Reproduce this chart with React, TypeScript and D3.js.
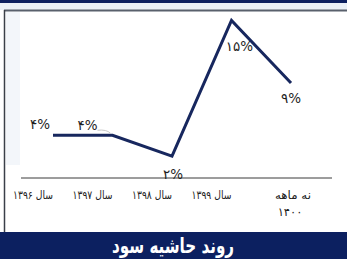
import { useMemo } from 'react';
import * as d3 from 'd3';

const categories = ['سال ۱۳۹۶', 'سال ۱۳۹۷', 'سال ۱۳۹۸', 'سال ۱۳۹۹', 'نه ماهه ۱۴۰۰'];
const values = [4, 4, 2, 15, 9];
const valueLabels = ['۴%', '۴%', '۲%', '۱۵%', '۹%'];
const title = 'روند حاشیه سود';

// label placement relative to each point (dx, dy)
const labelOffsets: [number, number][] = [[-13, -6], [-25, -5], [1, 23], [8, 31], [0, 20]];

const W = 347;
const H = 259;
const NAVY = '#0c2060';
const FONT = '"DejaVu Sans", sans-serif';

export default function App() {
  const x = useMemo(() => d3.scalePoint<string>().domain(categories).range([53, 291]), []);
  const y = useMemo(() => d3.scaleLinear().domain([0, 16]).range([177, 10]), []);

  const line = d3.line<number>()
    .x((_, i) => x(categories[i])!)
    .y(d => y(d));

  const axisY = y(0) + 1;
  const x0 = x(categories[0])! - 32;
  const x1 = x(categories[categories.length - 1])! + 41;

  return (
    <svg width={W} height={H} style={{ position: 'fixed', left: 0, top: 0, background: '#fff' }} fontFamily={FONT}>
      {/* header strip */}
      <rect x={0} y={0} width={W} height={3} fill={NAVY} />
      <rect x={0} y={3} width={W} height={7} fill="#eaf0f7" />
      <line x1={4} x2={W} y1={10.5} y2={10.5} stroke="#59606c" strokeWidth={2} />
      <line x1={4.5} x2={4.5} y1={10} y2={232} stroke="#3a3f48" strokeWidth={1.5} />
      <rect x={6} y={12} width={14} height={153} fill="#f3f6fa" />

      {/* axis */}
      <line x1={x0} x2={x1} y1={axisY} y2={axisY} stroke="#3a3a3a" strokeWidth={1} />

      {/* line */}
      <path d={line(values) ?? ''} fill="none" stroke="#17275e" strokeWidth={3} strokeLinejoin="miter" />

      {/* faint leader */}
      <path d={`M${x(categories[1])! - 15},${y(values[1]) - 5} Q${x(categories[1])! - 6},${y(values[1]) - 6} ${x(categories[1])! - 2},${y(values[1]) - 2}`}
        fill="none" stroke="#c8c8c8" strokeWidth={1} />

      {/* value labels */}
      {values.map((v, i) => (
        <text key={i} x={x(categories[i])! + labelOffsets[i][0]} y={y(v) + labelOffsets[i][1]}
          textAnchor="middle" fontSize={13.5} fill="#1e1e1e">
          {valueLabels[i]}
        </text>
      ))}

      {/* category labels */}
      {categories.map((c, i) => {
        const last = i === categories.length - 1;
        if (last) {
          const parts = c.split(' ');
          const num = parts.pop()!;
          return (
            <g key={c} fontSize={11.5} fill="#222" textAnchor="middle">
              <text x={x(c)! + 2} y={199} textLength={36} lengthAdjust="spacingAndGlyphs">{parts.join(' ')}</text>
              <text x={x(c)! - 1} y={216}>{num}</text>
            </g>
          );
        }
        return (
          <text key={c} x={x(c)!} y={199} textAnchor="end" fontSize={11.5} fill="#222"
            textLength={40} lengthAdjust="spacingAndGlyphs">{c}</text>
        );
      })}

      {/* footer title */}
      <rect x={0} y={232} width={W} height={H - 232} fill={NAVY} />
      <text x={173} y={253} textAnchor="middle" fontSize={21} fontWeight="bold" fill="#fff"
        textLength={122} lengthAdjust="spacingAndGlyphs">{title}</text>
    </svg>
  );
}
